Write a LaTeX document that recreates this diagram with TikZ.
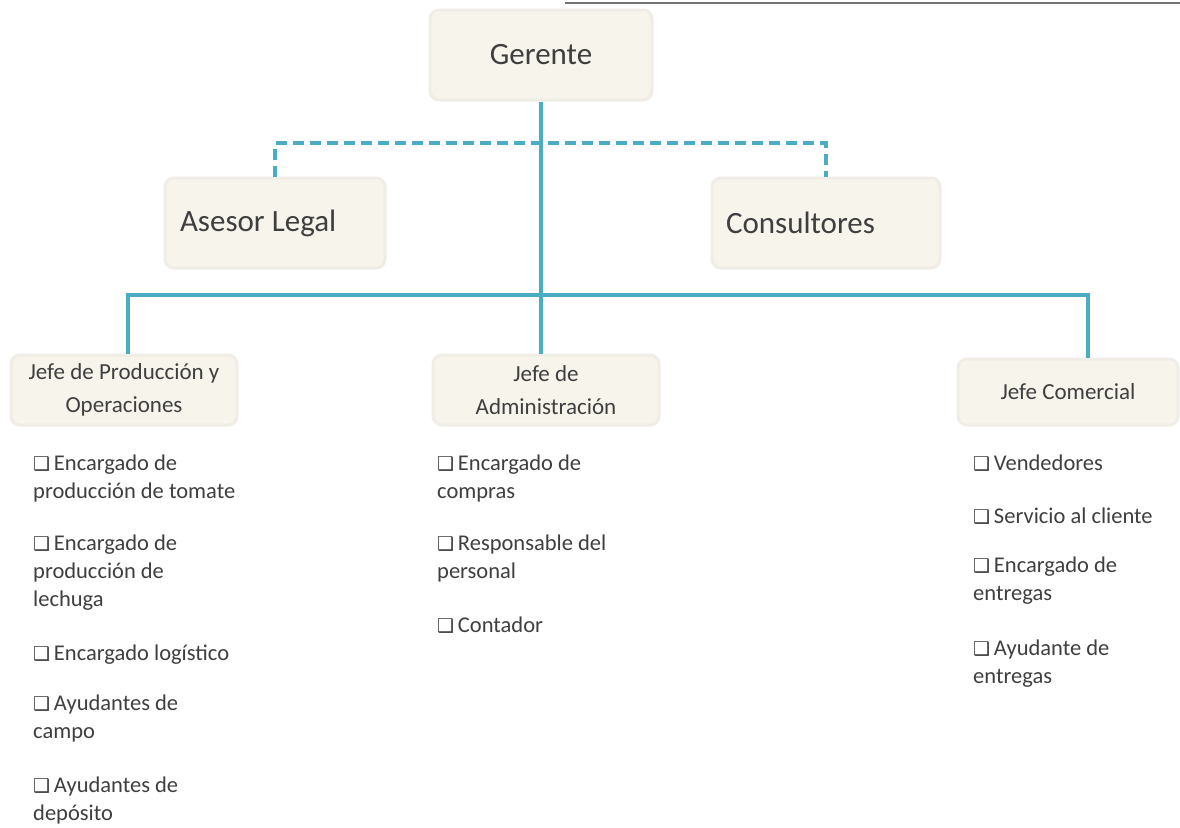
\documentclass[tikz,border=0pt]{standalone}
\usepackage{fontspec}
\setmainfont{Carlito}
\newfontfamily\djv{DejaVu Sans}
\definecolor{boxfill}{HTML}{F7F4EC}
\definecolor{boxedge}{HTML}{EFEDE6}
\definecolor{ln}{HTML}{4BACC6}
\definecolor{txt}{HTML}{3F3F3F}
\newcommand{\cbx}{{\djv\fontsize{19}{19}\selectfont ❑}\,}
\tikzset{
  orgbox/.style={rounded corners=9pt, fill=boxfill, draw=boxedge, line width=3pt, inner sep=0pt, text=txt},
  bigbox/.style={orgbox, font=\fontsize{31}{34}\selectfont},
  jefebox/.style={orgbox, minimum width=226pt, minimum height=70pt, align=center, font=\fontsize{23}{33}\selectfont},
  conn/.style={draw=ln, line width=3.2pt},
  dconn/.style={conn, dash pattern=on 11pt off 6pt},
  item/.style={anchor=north west, align=flush left, inner sep=0pt, text=txt, font=\fontsize{22.5}{28}\selectfont},
}
\begin{document}
\begin{tikzpicture}[x=1pt,y=-1pt]
\useasboundingbox (0,0) rectangle (1180,827);
\fill[white] (0,0) rectangle (1180,827);
\draw[black!55, line width=2pt] (565,3) -- (1180,3);

\node[bigbox, minimum width=222pt, minimum height=90pt] (ger) at (541,55) {Gerente};
\node[bigbox, minimum width=220pt, minimum height=90pt, text width=190pt, align=flush left] (ase) at (275,223) {Asesor Legal};
\node[bigbox, minimum width=228pt, minimum height=90pt, text width=200pt, align=flush left] (con) at (826,223) {Consultores};

\node[jefebox] (jp) at (124,390) {Jefe de Producción y\\Operaciones};
\node[jefebox] (ja) at (546,390) {Jefe de\\Administración};
\node[jefebox, minimum width=220pt, minimum height=66pt] (jc) at (1068,392) {Jefe Comercial};

\coordinate (dash) at (541,143);
\coordinate (bus) at (541,295);
\coordinate (busL) at (128,295);
\coordinate (busR) at (1088,295);

\draw[dconn] (ase.north) -- (ase.north |- dash) -- (con.north |- dash) -- (con.north);
\draw[conn] (ger.south) -- (bus);
\draw[conn] (busL |- jp.north) -- (busL) -- (busR) -- (busR |- jc.north);
\draw[conn] (bus) -- (bus |- ja.north);

% left column
\node[item] (p1) at (33,455) {\cbx Encargado de\\producción de tomate};
\node[item] (p2) at (33,535) {\cbx Encargado de\\producción de\\lechuga};
\node[item] (p3) at (33,645) {\cbx Encargado logístico};
\node[item] (p4) at (33,695) {\cbx Ayudantes de\\campo};
\node[item] (p5) at (33,777) {\cbx Ayudantes de\\depósito};
% middle column
\node[item] (a1) at (437,455) {\cbx Encargado de\\compras};
\node[item] (a2) at (437,535) {\cbx Responsable del\\personal};
\node[item] (a3) at (437,617) {\cbx Contador};
% right column
\node[item] (c1) at (973,455) {\cbx Vendedores};
\node[item] (c2) at (973,508) {\cbx Servicio al cliente};
\node[item] (c3) at (973,557) {\cbx Encargado de\\entregas};
\node[item] (c4) at (973,640) {\cbx Ayudante de\\entregas};
\end{tikzpicture}
\end{document}
